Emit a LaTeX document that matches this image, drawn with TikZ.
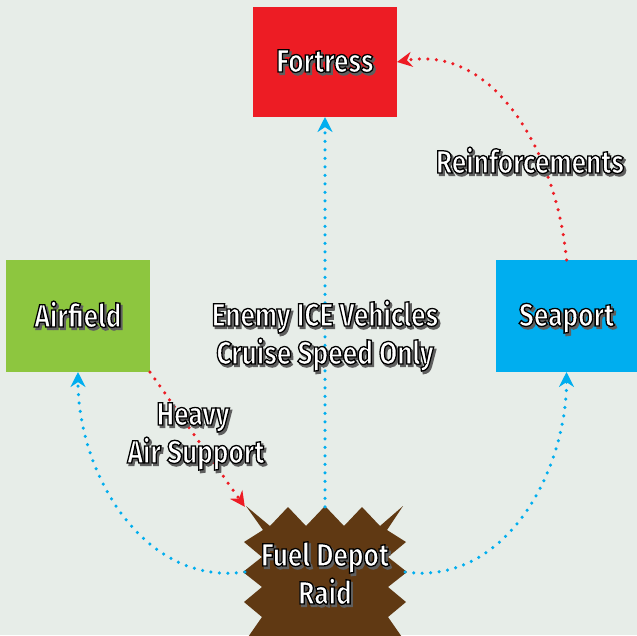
\documentclass[tikz,border=0pt]{standalone}
\usepackage{fontspec}
\newfontfamily\frontfont{Fira Sans}[FakeStretch=0.82, BoldFeatures={FakeBold=4}]
\newfontfamily\backfont{Fira Sans}[FakeStretch=0.82, BoldFeatures={FakeBold=5}]
\usetikzlibrary{arrows.meta}
\definecolor{bg}{RGB}{231,237,232}
\definecolor{fortc}{RGB}{237,28,36}
\definecolor{airc}{RGB}{141,198,63}
\definecolor{seac}{RGB}{0,174,239}
\definecolor{depotc}{RGB}{96,57,19}
\definecolor{bluel}{RGB}{0,174,239}
\definecolor{redl}{RGB}{237,28,36}
\definecolor{shadc}{RGB}{95,95,95}
\newcommand\lbltxt[1]{\leavevmode\rlap{\hspace{2pt}\raisebox{-2.4pt}{\backfont\bfseries\textcolor{shadc}{#1}}}{\frontfont\bfseries\color{black}\special{pdf:code 1 1 1 rg}#1}}
\tikzset{
  box/.style={minimum width=144pt, minimum height=112pt, inner sep=0pt, outer sep=0pt},
  lbl/.style={font=\fontsize{32}{38}\selectfont, inner sep=0pt, anchor=base},
  dotline/.style={line width=3.5pt, line cap=round, dash pattern=on 0pt off 8.5pt},
  bluearr/.style={dotline, draw=bluel, -{Stealth[length=15pt,width=15pt,fill=bluel]}},
  redarr/.style={dotline, draw=redl, -{Stealth[length=15pt,width=15pt,fill=redl]}},
}
\begin{document}
\begin{tikzpicture}[x=1pt,y=-1pt]
\useasboundingbox (0,0) rectangle (637,635);
\fill[bg] (0,0) rectangle (637,635);
\node[box, fill=fortc, minimum height=110pt] (fort) at (325,62) {};
\node[box, fill=airc] (air) at (78,316) {};
\node[box, fill=seac, minimum width=141pt] (sea) at (566.5,316) {};
\node[inner sep=0pt, minimum width=160pt, minimum height=130pt] (depot) at (325,572) {};
\fill[depotc] (246,506) -- (270,526) -- (288,507) -- (306,526) -- (325,506) -- (344,526) -- (362,507) -- (380,526) -- (403,506)
  -- (387,530) -- (406,542) -- (388,557) -- (407,572) -- (388,587) -- (406,602) -- (388,617) -- (404,640)
  -- (246,640) -- (262,617) -- (244,602) -- (262,587) -- (243,572) -- (262,557) -- (244,542) -- (263,530) -- cycle;
% connectors
\draw[bluearr] (depot.north) -- (fort.south);
\draw[bluearr] (depot.west) to[out=188,in=-90] (air.south);
\draw[bluearr] (depot.east) to[out=-8,in=-90] (sea.south);
\draw[redarr] (sea.north) to[out=95,in=10] (fort.east);
\draw[redarr] (air.south east) -- (depot.north west);
% labels
\node[lbl] (tfort) at (325,72) {\lbltxt{Fortress}};
\node[lbl] (tair) at (78,327) {\lbltxt{Airfield}};
\node[lbl] (tsea) at (566.5,326) {\lbltxt{Seaport}};
\node[lbl] (tdepot1) at (325,566) {\lbltxt{Fuel Depot}};
\node[lbl] (tdepot2) at (325,604) {\lbltxt{Raid}};
\node[lbl] (treinf) at (530,173) {\lbltxt{Reinforcements}};
\node[lbl] (tenemy1) at (325,326) {\lbltxt{Enemy ICE Vehicles}};
\node[lbl] (tenemy2) at (325,364) {\lbltxt{Cruise Speed Only}};
\node[lbl] (theavy1) at (193,425) {\lbltxt{Heavy}};
\node[lbl] (theavy2) at (196,463) {\lbltxt{Air Support}};
\end{tikzpicture}
\end{document}
